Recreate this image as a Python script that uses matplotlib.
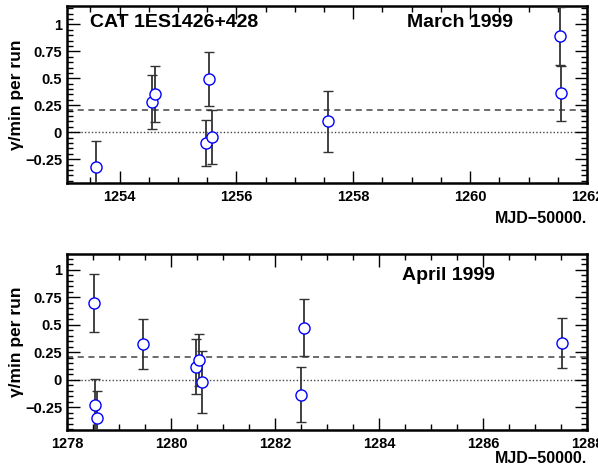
import numpy as np
import matplotlib
matplotlib.use("Agg")
import matplotlib.pyplot as plt
from matplotlib.ticker import MultipleLocator

plt.rcParams['font.family'] = ['Liberation Sans', 'DejaVu Sans']
plt.rcParams['font.weight'] = 'bold'

# March 1999
mjd_mar = [1253.6, 1254.55, 1254.6, 1255.53, 1255.48, 1255.58, 1257.56, 1261.54, 1261.56]
rate_mar = [-0.32, 0.28, 0.355, 0.49, -0.10, -0.045, 0.10, 0.89, 0.36]
err_mar = [0.24, 0.25, 0.26, 0.25, 0.21, 0.25, 0.28, 0.27, 0.255]

# April 1999
mjd_apr = [1278.52, 1278.53, 1278.58, 1279.47, 1280.49, 1280.53, 1280.59, 1282.56, 1282.5, 1287.51]
rate_apr = [0.70, -0.23, -0.35, 0.327, 0.12, 0.18, -0.02, 0.476, -0.136, 0.339]
err_apr = [0.26, 0.24, 0.245, 0.225, 0.25, 0.235, 0.285, 0.26, 0.25, 0.227]

mean_rate = 0.21

fig = plt.figure(figsize=(5.98, 4.72), dpi=100)
ax1 = fig.add_axes([0.112, 0.6123, 0.8696, 0.375])
ax2 = fig.add_axes([0.112, 0.089, 0.8696, 0.373])


def panel(ax, x, y, e, xlim, ylim, label, lpos, xlab_y):
    ax.axhline(mean_rate, color='#444444', ls=(0, (4, 3)), lw=1.1, zorder=1)
    ax.axhline(0, color='#444444', ls=(0, (1, 1.5)), lw=1.0, zorder=1)
    ax.errorbar(x, y, yerr=e, fmt='o', mfc='white', mec='blue', ms=8,
                mew=1.0, ecolor='#333333', elinewidth=1.3, capsize=3.5,
                capthick=1.3, zorder=3)
    ax.set_xlim(*xlim)
    ax.set_ylim(*ylim)
    ax.xaxis.set_major_locator(MultipleLocator(2))
    ax.xaxis.set_minor_locator(MultipleLocator(0.5))
    ax.yaxis.set_major_locator(MultipleLocator(0.25))
    ax.yaxis.set_minor_locator(MultipleLocator(0.05))
    ax.tick_params(which='both', direction='in', top=True, right=True,
                   labelsize=10.5, width=1.0)
    ax.tick_params(which='major', length=9)
    ax.tick_params(which='minor', length=4.5)
    ax.tick_params(axis='x', pad=5)
    for s in ax.spines.values():
        s.set_linewidth(1.8)
    ax.set_yticks([-0.25, 0, 0.25, 0.5, 0.75, 1])
    ax.set_yticklabels(['\u22120.25', '0', '0.25', '0.5', '0.75', '1'])
    ax.set_ylabel('\u03b3/min per run', fontsize=12.5, fontweight='bold', labelpad=1)
    ax.text(1.0, xlab_y, 'MJD\u221250000.', transform=ax.transAxes,
            ha='right', va='center', fontsize=11.5, fontweight='bold')
    ax.text(lpos[0], lpos[1], label, transform=ax.transAxes, ha='center',
            va='center', fontsize=14, fontweight='bold')


panel(ax1, mjd_mar, rate_mar, err_mar, (1253.1, 1262.0), (-0.47, 1.17),
      'March 1999', (0.756, 0.904), -0.2)
ax1.text(0.044, 0.904, 'CAT 1ES1426+428', transform=ax1.transAxes, ha='left',
         va='center', fontsize=14, fontweight='bold')
panel(ax2, mjd_apr, rate_apr, err_apr, (1278.0, 1288.0), (-0.455, 1.145),
      'April 1999', (0.733, 0.88), -0.16)

fig.savefig('out.png', dpi=100)
